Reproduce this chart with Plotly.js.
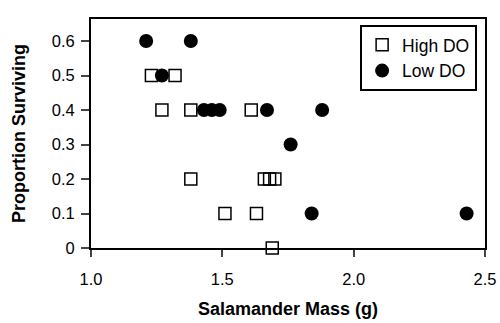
<!DOCTYPE html>
<html><head><meta charset="utf-8">
<script src="https://cdn.plot.ly/plotly-3.0.1.min.js"></script>
<style>html,body{margin:0;padding:0;background:#fff}</style>
</head><body>
<div id="chart" style="width:500px;height:323px"></div>
<script>
const highMass = [1.23, 1.32, 1.27, 1.38, 1.61, 1.38, 1.66, 1.68, 1.70, 1.51, 1.63, 1.69];
const highSurv = [0.5, 0.5, 0.4, 0.4, 0.4, 0.2, 0.2, 0.2, 0.2, 0.1, 0.1, 0.0];
const lowMass = [1.21, 1.38, 1.27, 1.43, 1.46, 1.49, 1.67, 1.88, 1.76, 1.84, 2.43];
const lowSurv = [0.6, 0.6, 0.5, 0.4, 0.4, 0.4, 0.4, 0.4, 0.3, 0.1, 0.1];
const xTicks = [1.0, 1.5, 2.0, 2.5];
const yTicks = [0, 0.1, 0.2, 0.3, 0.4, 0.5, 0.6];

const traces = [
  {x: highMass, y: highSurv, name: 'High DO', type: 'scatter', mode: 'markers', cliponaxis: false,
   marker: {symbol: 'square-open', size: 12, color: '#000', line: {width: 1.5, color: '#000'}}},
  {x: lowMass, y: lowSurv, name: 'Low DO', type: 'scatter', mode: 'markers', cliponaxis: false,
   marker: {symbol: 'circle', size: 14, color: '#000'}}
];
const fam = 'Liberation Sans, Arial, sans-serif';
const layout = {
  width: 500, height: 323,
  margin: {l: 91, r: 15, t: 19, b: 75},
  paper_bgcolor: '#fff', plot_bgcolor: '#fff',
  font: {family: fam, size: 16.5, color: '#000'},
  showlegend: true,
  legend: {x: 0.98, y: 0.974, xanchor: 'right', yanchor: 'top', bordercolor: '#000', borderwidth: 2,
    bgcolor: '#fff', font: {size: 17.5, family: fam, color: '#000'}, itemwidth: 30, tracegroupgap: 0},
  xaxis: {range: [1.0, 2.5], tickvals: xTicks, tickformat: '.1f', ticks: 'outside', ticklen: 7, tickwidth: 2,
    ticklabelstandoff: 8,
    showline: true, linewidth: 2, linecolor: '#000', mirror: true, showgrid: false, zeroline: false,
    tickfont: {size: 16.5}, title: {text: '<b>Salamander Mass (g)</b>', font: {size: 18}, standoff: 16}},
  yaxis: {range: [0, 0.664], tickvals: yTicks, ticks: 'outside', ticklen: 8, tickwidth: 2,
    ticklabelstandoff: 3,
    showline: true, linewidth: 2, linecolor: '#000', mirror: true, showgrid: false, zeroline: false,
    tickfont: {size: 16.5}, title: {text: '<b>Proportion Surviving</b>', font: {size: 18}, standoff: 21}}
};
Plotly.newPlot('chart', traces, layout, {displayModeBar: false, staticPlot: true});
</script>
</body></html>
